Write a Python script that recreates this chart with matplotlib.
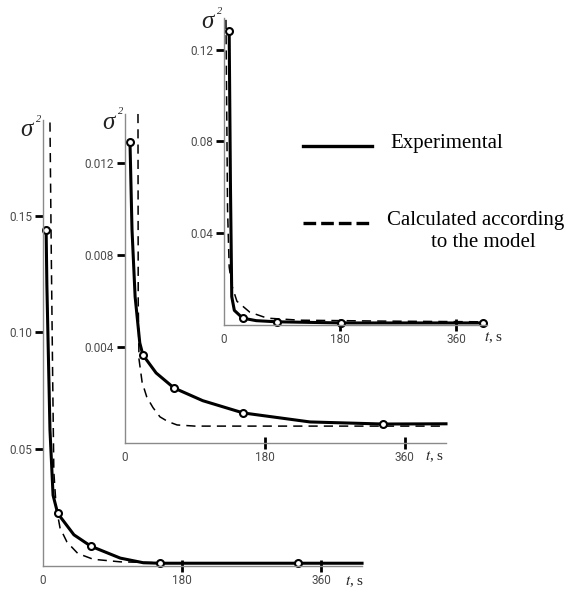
import matplotlib
matplotlib.use("Agg")
import matplotlib.pyplot as plt
from matplotlib.lines import Line2D

plt.rcParams['mathtext.fontset'] = 'stix'

# panel 1 (largest, back)
t1_exp = [4, 5, 9, 13, 19, 40, 62, 100, 130, 151, 330, 413]
s1_exp = [0.144, 0.120, 0.058, 0.030, 0.0222, 0.0130, 0.0081, 0.0030, 0.0010, 0.0008, 0.0008, 0.0008]
t1_pts = [4, 19, 62, 151, 330]
s1_pts = [0.144, 0.0222, 0.0081, 0.0008, 0.0008]
t1_calc = [9, 10.5, 12.5, 14, 17, 22, 31, 45, 65, 100, 150, 413]
s1_calc = [0.19, 0.14, 0.08, 0.04, 0.025, 0.016, 0.0099, 0.005, 0.0025, 0.0014, 0.0010, 0.0010]

# panel 2 (middle)
t2_exp = [6.4, 9, 13, 19, 23, 40, 63, 100, 152, 238, 332, 413]
s2_exp = [0.0129, 0.0091, 0.0062, 0.0042, 0.00368, 0.0029, 0.00225, 0.0017, 0.00117, 0.00078, 0.00069, 0.0007]
t2_pts = [6.4, 23, 63, 152, 332]
s2_pts = [0.0129, 0.00368, 0.00225, 0.00117, 0.00069]
t2_calc = [16.7, 17, 18, 22, 28, 36, 45, 55, 67, 90, 413]
s2_calc = [0.0141, 0.006, 0.0035, 0.0025, 0.00186, 0.0014, 0.0010, 0.0008, 0.00065, 0.0006, 0.0006]

# panel 3 (top right)
t3_exp = [8, 10, 12, 16, 29, 50, 82, 182, 402]
s3_exp = [0.128, 0.06, 0.012, 0.006, 0.0026, 0.0015, 0.0010, 0.0005, 0.0005]
t3_pts = [8, 29, 82, 182, 402]
s3_pts = [0.128, 0.0026, 0.0010, 0.0005, 0.0005]
t3_calc = [3, 4, 5.5, 8, 12, 20, 40, 67, 118, 250, 402]
s3_calc = [0.133, 0.10, 0.05, 0.025, 0.017, 0.010, 0.0052, 0.0026, 0.0017, 0.0013, 0.0010]

panels = [
    dict(rect=[0.0743, 0.0390, 0.551, 0.757], xlim=(0, 413), ylim=(-0.0004, 0.191),
         yticks=[0.05, 0.10, 0.15], ylabels=['0.05', '0.10', '0.15'], tx=0.947, sy=-10,
         te=t1_exp, se=s1_exp, tp=t1_pts, sp=s1_pts, tc=t1_calc, sc=s1_calc),
    dict(rect=[0.2159, 0.2479, 0.5544, 0.5586], xlim=(0, 413), ylim=(-0.00013, 0.0141),
         yticks=[0.004, 0.008, 0.012], ylabels=['0.004', '0.008', '0.012'], tx=0.935, sy=-9,
         te=t2_exp, se=s2_exp, tp=t2_pts, sp=s2_pts, tc=t2_calc, sc=s2_calc),
    dict(rect=[0.3869, 0.4482, 0.4542, 0.5212], xlim=(0, 408), ylim=(-0.0004, 0.1338),
         yticks=[0.04, 0.08, 0.12], ylabels=['0.04', '0.08', '0.12'], tx=0.99, sy=-4,
         te=t3_exp, se=s3_exp, tp=t3_pts, sp=s3_pts, tc=t3_calc, sc=s3_calc),
]

tick_font = dict(family=['Roboto', 'DejaVu Sans'], size=8.5)

fig = plt.figure(figsize=(5.79, 5.89), dpi=100)

for p in panels:
    ax = fig.add_axes(p['rect'])
    ax.set_facecolor('none')
    ax.plot(p['tc'], p['sc'], color='black', lw=1.1, dashes=(6, 4), clip_on=False)
    ax.plot(p['te'], p['se'], color='black', lw=2.2, clip_on=False)
    ax.plot(p['tp'], p['sp'], 'o', ms=5, mfc='white', mec='black', mew=1.5, clip_on=False)
    ax.set_xlim(p['xlim'])
    ax.set_ylim(p['ylim'])
    for s in ['top', 'right']:
        ax.spines[s].set_visible(False)
    for s in ['left', 'bottom']:
        ax.spines[s].set_color('#8a8a8a')
        ax.spines[s].set_linewidth(1.0)
    ax.set_xticks([0, 180, 360])
    ax.set_xticklabels(['0', '180', '360'], color='#4a4a4a', **tick_font)
    ax.set_yticks(p['yticks'])
    ax.set_yticklabels(p['ylabels'], color='#4a4a4a', **tick_font)
    ax.tick_params(axis='both', direction='out', length=6, width=2, color='black', pad=2)
    ax.tick_params(axis='x', direction='inout', length=9, pad=1)
    ax.xaxis.get_major_ticks()[0].tick1line.set_visible(False)
    # sigma^2 label
    ax.annotate('σ', xy=(0, 1), xycoords='axes fraction', xytext=(-10, p['sy']),
                textcoords='offset pixels', ha='right', va='center',
                fontsize=18, family='Liberation Serif', style='italic', color='#222222')
    ax.annotate('2', xy=(0, 1), xycoords='axes fraction', xytext=(-4, p['sy'] + 11),
                textcoords='offset pixels', ha='center', va='center',
                fontsize=7.5, family='Liberation Serif', style='italic', color='#222222')
    ax.text(p['tx'], -0.018, r'$t$, s', transform=ax.transAxes, ha='left', va='top',
            fontsize=11, family='Liberation Serif', color='#222222')

# legend drawn by hand so the dashed key sits on the first text line
leg_font = dict(family='Liberation Serif', size=15, color='black')
fig.add_artist(Line2D([0.523, 0.642], [0.752, 0.752], transform=fig.transFigure,
                      color='black', lw=2.4))
fig.text(0.674, 0.757, 'Experimental', ha='left', va='center', **leg_font)
fig.add_artist(Line2D([0.523, 0.642], [0.621, 0.621], transform=fig.transFigure,
                      color='black', lw=2.4, dashes=(3.8, 1.5)))
fig.text(0.668, 0.625, 'Calculated according', ha='left', va='center', **leg_font)
fig.text(0.834, 0.589, 'to the model', ha='center', va='center', **leg_font)

fig.savefig('out.png', dpi=100)
